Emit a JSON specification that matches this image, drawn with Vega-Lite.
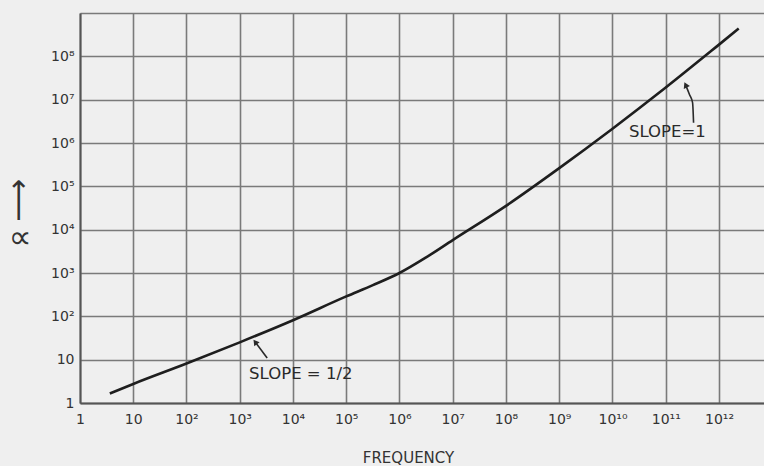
{
  "$schema": "https://vega.github.io/schema/vega-lite/v6.json",
  "width": 684,
  "height": 390,
  "autosize": {"type": "none"},
  "padding": {"left": 80, "top": 13, "right": 0, "bottom": 63},
  "background": "#efefef",
  "title": {
    "text": "∝",
    "orient": "left",
    "angle": 0,
    "anchor": "middle",
    "font": "DejaVu Sans",
    "fontSize": 32,
    "fontWeight": "normal",
    "color": "#333333",
    "offset": -40,
    "dy": 15
  },
  "config": {
    "view": {"stroke": null},
    "axis": {
      "grid": true,
      "gridColor": "#7a7a7a",
      "gridWidth": 1.6,
      "gridOpacity": 1,
      "domainColor": "#555555",
      "domainWidth": 2,
      "ticks": false,
      "labelFont": "DejaVu Sans",
      "labelFontSize": 14,
      "labelColor": "#333333",
      "titleFont": "DejaVu Sans",
      "titleColor": "#333333",
      "titleFontWeight": "normal"
    }
  },
  "datasets": {
    "curve": [
      {"f": 3.63, "a": 1.66},
      {"f": 10, "a": 2.75},
      {"f": 100, "a": 8.13},
      {"f": 1000, "a": 25.1},
      {"f": 10000, "a": 81.3},
      {"f": 100000, "a": 288},
      {"f": 316228, "a": 525},
      {"f": 1000000, "a": 1000},
      {"f": 3162278, "a": 2291},
      {"f": 10000000, "a": 5754},
      {"f": 100000000, "a": 35481},
      {"f": 1000000000, "a": 263027},
      {"f": 10000000000, "a": 2137962},
      {"f": 100000000000, "a": 19054607},
      {"f": 1000000000000, "a": 186208714},
      {"f": 2344000000000, "a": 436515832}
    ],
    "arrow1": [{"f": 3273, "a": 10.96, "f2": 1950, "a2": 25.6}],
    "head1": [{"f": 1950, "a": 25.6}],
    "arrow2": [
      {"f": 333000000000, "a": 2930000},
      {"f": 319000000000, "a": 8500000},
      {"f": 280000000000, "a": 13000000},
      {"f": 236000000000, "a": 22000000}
    ],
    "head2": [{"f": 236000000000, "a": 22000000}],
    "labels": [
      {"f": 14000, "a": 4.7, "label": "SLOPE = 1/2"},
      {"f": 107000000000, "a": 1800000, "label": "SLOPE=1"}
    ]
  },
  "encoding": {
    "x": {
      "field": "f",
      "type": "quantitative",
      "scale": {"type": "log", "domain": [1, 7000000000000], "nice": false},
      "axis": {
        "values": [1, 10, 100, 1000, 10000, 100000, 1000000, 10000000, 100000000, 1000000000, 10000000000, 100000000000, 1000000000000],
        "labelExpr": "['1','10','10²','10³','10⁴','10⁵','10⁶','10⁷','10⁸','10⁹','10¹⁰','10¹¹','10¹²'][round(log(datum.value)/LN10)]",
        "labelPadding": 9,
        "labelFlush": false,
        "title": "FREQUENCY",
        "titleFontSize": 15,
        "titleX": 328,
        "titleY": 59,
        "titleAnchor": null,
        "titleAlign": "center",
        "titleBaseline": "alphabetic"
      }
    },
    "y": {
      "field": "a",
      "type": "quantitative",
      "scale": {"type": "log", "domain": [1, 1000000000], "nice": false},
      "axis": {
        "values": [1, 10, 100, 1000, 10000, 100000, 1000000, 10000000, 100000000, 1000000000],
        "labelExpr": "['1','10','10²','10³','10⁴','10⁵','10⁶','10⁷','10⁸',''][round(log(datum.value)/LN10)]",
        "labelPadding": 6,
        "labelFlush": false,
        "title": "⟶",
        "titleFontSize": 30,
        "titleAngle": 270,
        "titleAlign": "center",
        "titleBaseline": "middle",
        "titleX": -62,
        "titleY": 187
      }
    }
  },
  "layer": [
    {
      "data": {"name": "curve"},
      "mark": {"type": "line", "color": "#1e1e1e", "strokeWidth": 2.6, "interpolate": "monotone"}
    },
    {
      "data": {"name": "arrow1"},
      "mark": {"type": "rule", "color": "#2a2a2a", "strokeWidth": 1.6},
      "encoding": {"x2": {"field": "f2"}, "y2": {"field": "a2"}}
    },
    {
      "data": {"name": "head1"},
      "mark": {"type": "point", "shape": "triangle-up", "filled": true, "color": "#2a2a2a", "size": 45, "angle": 323, "opacity": 1}
    },
    {
      "data": {"name": "arrow2"},
      "mark": {"type": "line", "color": "#2a2a2a", "strokeWidth": 1.6, "interpolate": "monotone"}
    },
    {
      "data": {"name": "head2"},
      "mark": {"type": "point", "shape": "triangle-up", "filled": true, "color": "#2a2a2a", "size": 45, "angle": 335, "opacity": 1}
    },
    {
      "data": {"name": "labels"},
      "mark": {"type": "text", "font": "DejaVu Sans", "fontSize": 16.5, "color": "#2a2a2a", "align": "center", "baseline": "middle"},
      "encoding": {"text": {"field": "label"}}
    }
  ]
}
